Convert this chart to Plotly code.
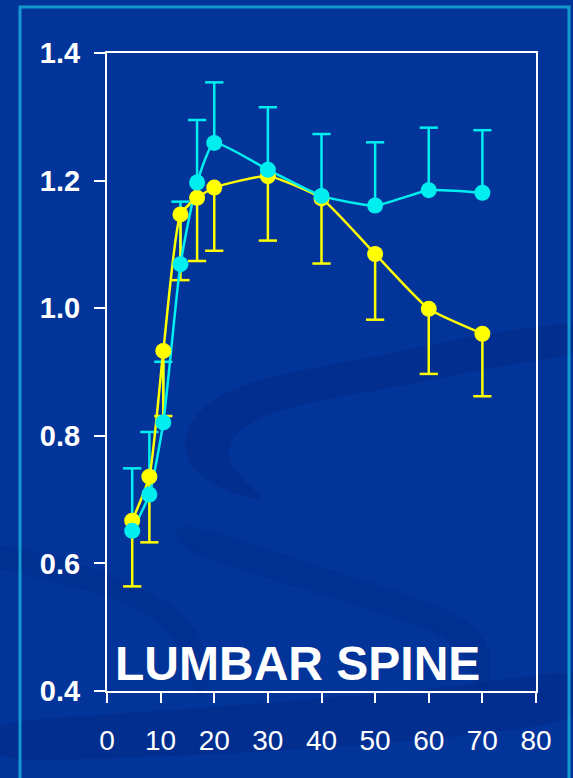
import plotly.graph_objects as go

# Lumbar spine bone density by age (mean with one-sided SD bars)
ages = [4.7, 7.9, 10.5, 13.7, 16.8, 20, 30, 40, 50, 60, 70]
men_bmd = [0.651, 0.708, 0.821, 1.069, 1.197, 1.259, 1.217, 1.176, 1.161, 1.185, 1.181]
men_sd = [0.098, 0.098, 0.095, 0.098, 0.098, 0.095, 0.098, 0.097, 0.099, 0.098, 0.098]
women_bmd = [0.667, 0.736, 0.933, 1.147, 1.173, 1.189, 1.207, 1.172, 1.085, 0.999, 0.960]
women_sd = [0.103, 0.103, 0.102, 0.103, 0.099, 0.099, 0.101, 0.102, 0.103, 0.102, 0.098]

x_ticks = [0, 10, 20, 30, 40, 50, 60, 70, 80]
y_ticks = [0.4, 0.6, 0.8, 1.0, 1.2, 1.4]
y_labels = ["0.4", "0.6", "0.8", "1.0", "1.2", "1.4"]
title_text = "LUMBAR SPINE"

CYAN = "#00eef0"
YELLOW = "#ffff00"
BG = "#02349a"

W, H = 573, 778
L, R, T, B = 107, 37, 53, 87
PW, PH = W - L - R, H - T - B


def px(xp, yp):
    """pixel position on the page -> paper coordinates"""
    return (xp - L) / PW, (H - B - yp) / PH


def smooth_closed(points):
    """closed outline through the midpoints, rounded with quadratic curves"""
    pts = [px(a, b) for a, b in points]
    n = len(pts)
    mids = [((pts[i][0] + pts[(i + 1) % n][0]) / 2, (pts[i][1] + pts[(i + 1) % n][1]) / 2)
            for i in range(n)]
    d = f"M{mids[-1][0]:.4f},{mids[-1][1]:.4f}"
    for i in range(n):
        c, m = pts[i], mids[i]
        d += f" Q{c[0]:.4f},{c[1]:.4f} {m[0]:.4f},{m[1]:.4f}"
    return d + " Z"


def bar_path(xs, ys, sds, direction, cap):
    """one-sided error bars as a single broken line"""
    bx, by = [], []
    for x, y, s in zip(xs, ys, sds):
        end = y + direction * s
        bx += [x, x, None, x - cap, x + cap, None]
        by += [y, end, None, end, end, None]
    return bx, by


cap = 1.7  # half cap width, in years
fig = go.Figure()

mx, my = bar_path(ages, men_bmd, men_sd, +1, cap)
wx, wy = bar_path(ages, women_bmd, women_sd, -1, cap)

fig.add_trace(go.Scatter(x=mx, y=my, mode="lines", line=dict(color=CYAN, width=2.5),
                         hoverinfo="skip", showlegend=False))
fig.add_trace(go.Scatter(x=wx, y=wy, mode="lines", line=dict(color=YELLOW, width=2.5),
                         hoverinfo="skip", showlegend=False))
fig.add_trace(go.Scatter(x=ages, y=women_bmd, mode="lines",
                         line=dict(color=YELLOW, width=2.5, shape="spline", smoothing=0.5),
                         showlegend=False))
fig.add_trace(go.Scatter(x=ages, y=men_bmd, mode="lines",
                         line=dict(color=CYAN, width=2.5, shape="spline", smoothing=0.5),
                         showlegend=False))
fig.add_trace(go.Scatter(x=ages, y=women_bmd, mode="markers", name="Women",
                         marker=dict(color=YELLOW, size=16, line=dict(width=0)),
                         showlegend=False))
fig.add_trace(go.Scatter(x=ages, y=men_bmd, mode="markers", name="Men",
                         marker=dict(color=CYAN, size=16, line=dict(width=0)),
                         showlegend=False))

# background swirls
swirls = [
    ([(600, 318), (470, 336), (380, 356), (300, 370), (240, 385), (200, 408), (182, 440),
      (192, 472), (235, 495), (268, 502), (240, 478), (226, 455), (235, 432), (265, 415),
      (310, 402), (390, 388), (480, 370), (600, 350)], 0.16),
    ([(-20, 540), (60, 558), (125, 580), (175, 605), (200, 635), (210, 668), (204, 700),
      (192, 690), (186, 660), (172, 635), (145, 612), (95, 592), (30, 575), (-20, 566)], 0.13),
    ([(175, 520), (260, 546), (340, 573), (420, 598), (472, 622), (492, 652), (490, 685),
      (478, 690), (468, 660), (448, 638), (398, 618), (330, 598), (250, 572), (175, 548)], 0.13),
    ([(-20, 722), (150, 712), (300, 700), (450, 688), (600, 665), (600, 718), (450, 738),
      (300, 750), (150, 757), (-20, 762)], 0.16),
]
shapes = [dict(type="path", path=smooth_closed(p), xref="paper", yref="paper",
               fillcolor=f"rgba(0,20,90,{a})", line=dict(width=0), layer="below")
          for p, a in swirls]

# outer frame
fx0, fy0 = px(20, 7)
fx1, fy1 = px(569, 820)
shapes.append(dict(type="rect", xref="paper", yref="paper", x0=fx0, y0=fy1, x1=fx1, y1=fy0,
                   line=dict(color="#1597cf", width=3), fillcolor="rgba(0,0,0,0)",
                   layer="below"))

fig.update_layout(
    width=W, height=H,
    margin=dict(l=L, r=R, t=T, b=B, pad=0),
    paper_bgcolor=BG, plot_bgcolor="rgba(0,0,0,0)",
    shapes=shapes,
    font=dict(family="Liberation Sans, Arial, sans-serif", color="white"),
    annotations=[dict(text="<b>" + title_text + "</b>", xref="paper", yref="paper",
                      x=px(113, 0)[0], y=px(0, 692)[1], xanchor="left", yanchor="bottom",
                      showarrow=False, font=dict(size=48, color="white"))],
)
fig.update_xaxes(range=[0, 80], tickvals=x_ticks, ticks="outside", ticklen=10, tickwidth=2,
                 tickcolor="white", showline=True, linecolor="white", linewidth=2,
                 mirror=True, showgrid=False, zeroline=False,
                 tickfont=dict(size=28, color="white"), ticklabelstandoff=13)
fig.update_yaxes(range=[0.4, 1.4], tickvals=y_ticks, ticktext=y_labels, ticks="outside",
                 ticklen=11, tickwidth=2, tickcolor="white", showline=True,
                 linecolor="white", linewidth=2, mirror=True, showgrid=False,
                 zeroline=False, tickfont=dict(size=29, color="white", weight="bold"),
                 ticklabelstandoff=8)

fig.write_html("out.html")
